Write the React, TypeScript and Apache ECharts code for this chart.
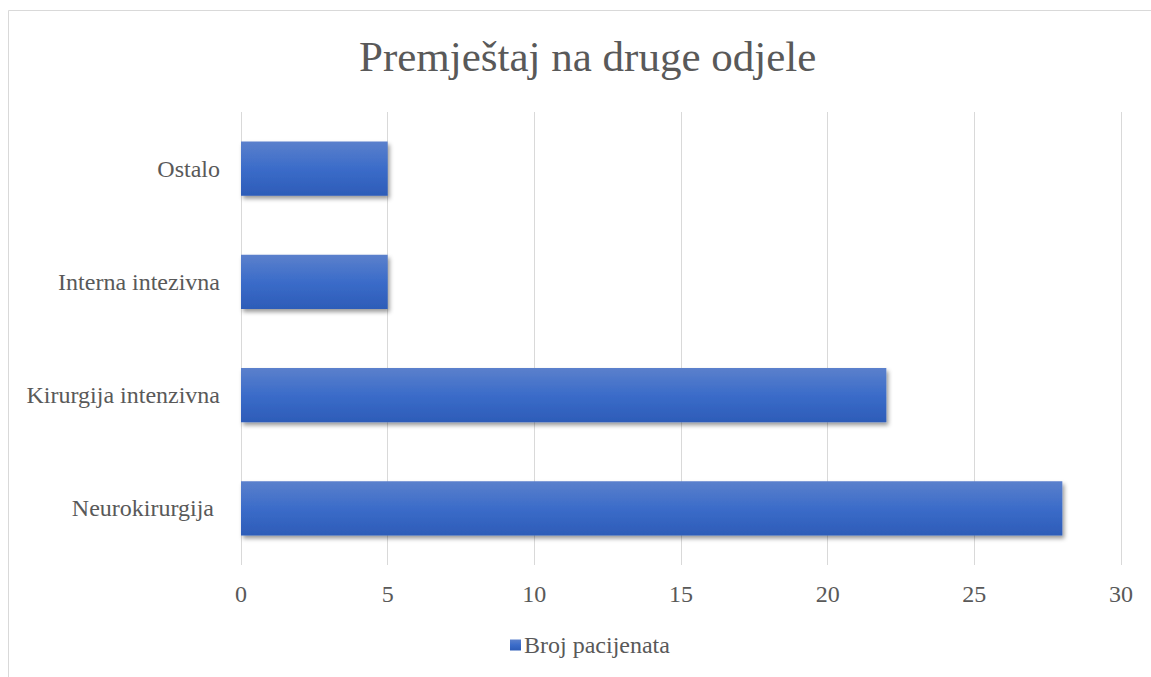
import React, { useEffect, useRef } from "react";
import * as echarts from "echarts";

const categories = ["Neurokirurgija ", "Kirurgija intenzivna", "Interna intezivna", "Ostalo"];
const values = [28, 22, 5, 5];
const seriesName = "Broj pacijenata";
const titleText = "Premještaj na druge odjele";

export default function App() {
  const ref = useRef<HTMLDivElement>(null);
  useEffect(() => {
    if (!ref.current) return;
    const chart = echarts.init(ref.current, null, { renderer: "svg" });
    const font = "'Liberation Serif', 'Times New Roman', serif";
    chart.setOption({
      animation: false,
      backgroundColor: "#ffffff",
      title: {
        text: titleText,
        left: 354,
        top: 30,
        textStyle: { fontSize: 43, fontWeight: "normal", color: "#595959", fontFamily: font },
      },
      graphic: [
        {
          type: "rect",
          shape: { x: 8.5, y: 10.5, width: 1200, height: 700 },
          style: { fill: "none", stroke: "#d9d9d9", lineWidth: 1 },
          silent: true,
        },
      ],
      legend: {
        bottom: 15,
        left: 505,
        itemWidth: 11,
        itemHeight: 11,
        icon: "rect",
        textStyle: { fontSize: 24, color: "#595959", fontFamily: font, padding: [0, 0, 0, -2] },
        data: [seriesName],
      },
      grid: { left: 241, right: 30, top: 112, bottom: 112, containLabel: false },
      xAxis: {
        type: "value",
        min: 0,
        max: 30,
        interval: 5,
        axisLine: { show: false },
        axisTick: { show: false },
        splitLine: { lineStyle: { color: "#d9d9d9", width: 1 } },
        axisLabel: { fontSize: 24, color: "#595959", fontFamily: font, margin: 17 },
      },
      yAxis: {
        type: "category",
        data: categories,
        axisLine: { show: false },
        axisTick: { show: false },
        axisLabel: { fontSize: 24, color: "#595959", fontFamily: font, margin: 21 },
      },
      series: [
        {
          name: seriesName,
          type: "bar",
          data: values,
          barCategoryGap: "52%",
          itemStyle: {
            color: new echarts.graphic.LinearGradient(0, 0, 0, 1, [
              { offset: 0, color: "#5b80cc" },
              { offset: 0.5, color: "#3b6cc9" },
              { offset: 1, color: "#2d5cb8" },
            ]),
            shadowColor: "rgba(0,0,0,0.4)",
            shadowBlur: 4,
            shadowOffsetX: 2,
            shadowOffsetY: 3,
          },
        },
      ],
    });
    return () => chart.dispose();
  }, []);
  return (
    <div style={{ position: "fixed", left: 0, top: 0, width: 1151, height: 677, overflow: "hidden" }}>
      <div ref={ref} style={{ width: 1151, height: 677 }} />
    </div>
  );
}
